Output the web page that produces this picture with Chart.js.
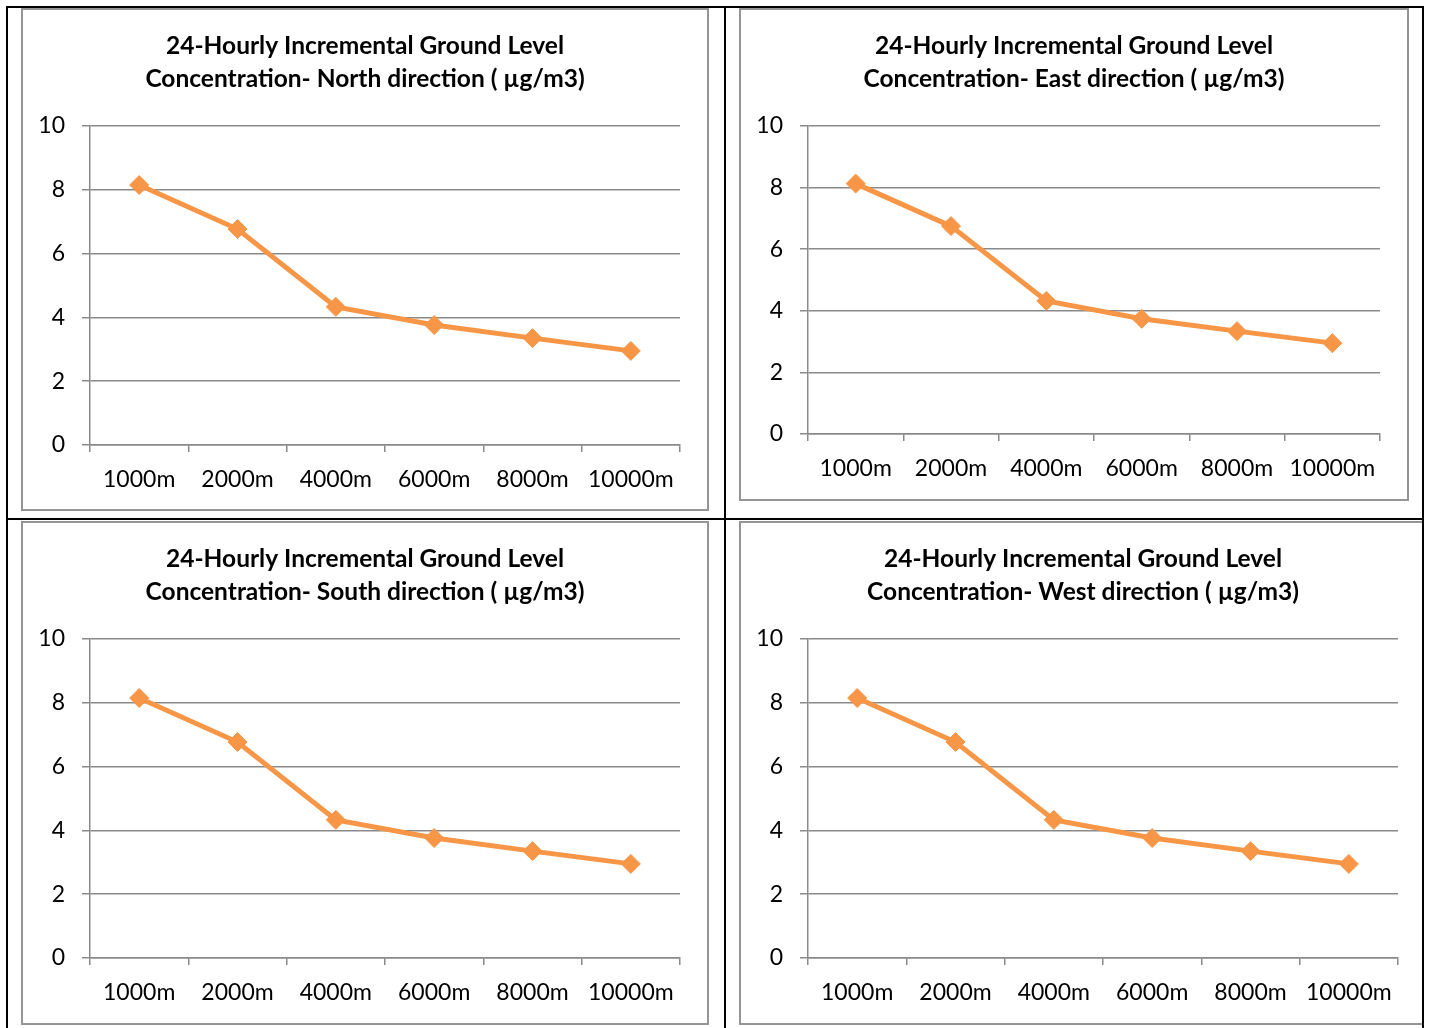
<!DOCTYPE html>
<html>
<head>
<meta charset="utf-8">
<title>24-Hourly Incremental Ground Level Concentration</title>
<script src="https://cdn.jsdelivr.net/npm/chart.js@4.4.1/dist/chart.umd.min.js"></script>
<style>
  html, body { margin: 0; padding: 0; background: #fff; }
  body { position: relative; width: 1430px; height: 1028px; overflow: hidden; }
  .rule { position: absolute; background: #000; }
  .clip { position: absolute; overflow: hidden; }
  .panel { position: absolute; }
  .panel canvas { position: absolute; left: 0; top: 0; }
  .frame { position: absolute; left: 0; top: 0; right: 0; bottom: 0; box-sizing: border-box;
           border: 2px solid #959595; pointer-events: none; }
</style>
</head>
<body>

<!-- table rules -->
<div class="rule" style="left:6px; top:6px; width:1418px; height:2px;"></div>
<div class="rule" style="left:6px; top:518px; width:1418px; height:2px;"></div>
<div class="rule" style="left:6px; top:6px; width:2px; height:1030px;"></div>
<div class="rule" style="left:724px; top:6px; width:2px; height:1030px;"></div>
<div class="rule" style="left:1422px; top:6px; width:2px; height:1030px;"></div>

<!-- chart panels -->
<div class="panel" style="left:21px; top:8px; width:688px; height:503px;">
  <canvas id="chartNorth" width="688" height="503"></canvas><div class="frame"></div>
</div>
<div class="panel" style="left:739px; top:8px; width:670px; height:493px;">
  <canvas id="chartEast" width="670" height="493"></canvas><div class="frame"></div>
</div>
<div class="panel" style="left:21px; top:521px; width:688px; height:504px;">
  <canvas id="chartSouth" width="688" height="504"></canvas><div class="frame"></div>
</div>
<div class="clip" style="left:726px; top:520px; width:696px; height:508px;">
  <div class="panel" style="left:13px; top:1px; width:688px; height:504px;">
    <canvas id="chartWest" width="688" height="504"></canvas><div class="frame"></div>
  </div>
</div>

<script>
// Receptor distances along each direction
const distances = ['1000m', '2000m', '4000m', '6000m', '8000m', '10000m'];

// 24-hourly incremental GLC (µg/m3) per direction
const northValues = [8.15, 6.77, 4.33, 3.76, 3.35, 2.95];
const eastValues  = [8.13, 6.75, 4.32, 3.74, 3.34, 2.95];
const southValues = [8.15, 6.77, 4.33, 3.76, 3.35, 2.95];
const westValues  = [8.15, 6.77, 4.33, 3.76, 3.35, 2.95];

// Value axis ticks
const yTicks = [0, 2, 4, 6, 8, 10];

const titleFirstLine = '24-Hourly Incremental Ground Level';
const directionNames = ['North', 'East', 'South', 'West'];

const LINE_COLOR = '#F79646';
const GRID_COLOR = '#8a8a8a';
const FONT_FAMILY = 'Lato, Calibri, "Open Sans", sans-serif';

function buildChart(canvasId, direction, values, plotBottom) {
  const canvas = document.getElementById(canvasId);
  const xAxisHeight = canvas.height - plotBottom;
  return new Chart(canvas, {
    type: 'line',
    data: {
      labels: distances,
      datasets: [{
        data: values,
        yAxisID: 'y',
        borderColor: LINE_COLOR,
        backgroundColor: LINE_COLOR,
        borderWidth: 5,
        tension: 0,
        pointStyle: 'rectRot',
        pointRadius: 9.5,
        pointHoverRadius: 9.5,
        pointBackgroundColor: LINE_COLOR,
        pointBorderColor: LINE_COLOR,
        pointBorderWidth: 1,
        fill: false
      }]
    },
    options: {
      responsive: false,
      maintainAspectRatio: false,
      animation: false,
      devicePixelRatio: 1,
      layout: { padding: 0 },
      plugins: {
        legend: { display: false },
        tooltip: { enabled: false },
        title: {
          display: true,
          text: [titleFirstLine, 'Concentration- ' + direction + ' direction ( µg/m3)'],
          color: '#000',
          font: { family: FONT_FAMILY, size: 24.5, weight: 'bold', lineHeight: '33px' },
          padding: { top: 22, bottom: 30 }
        }
      },
      scales: {
        x: {
          type: 'category',
          offset: true,
          grid: {
            display: true,
            offset: true,
            drawOnChartArea: false,
            drawTicks: true,
            tickLength: 7,
            color: GRID_COLOR,
            lineWidth: 1.5
          },
          border: { display: true, color: GRID_COLOR, width: 1.5 },
          ticks: {
            color: '#000',
            font: { family: FONT_FAMILY, size: 23 },
            padding: 14,
            maxRotation: 0,
            autoSkip: false
          },
          afterFit(scale) { scale.height = xAxisHeight; }
        },
        y: {
          position: 'left',
          min: yTicks[0],
          max: yTicks[yTicks.length - 1],
          grid: {
            color: GRID_COLOR,
            lineWidth: 1.5,
            drawTicks: true,
            tickLength: 8
          },
          border: { display: true, color: GRID_COLOR, width: 1.5 },
          ticks: {
            color: '#000',
            font: { family: FONT_FAMILY, size: 23 },
            padding: 17,
            stepSize: yTicks[1] - yTicks[0]
          },
          afterBuildTicks(scale) { scale.ticks = yTicks.map(v => ({ value: v })); },
          afterFit(scale) { scale.width = 69; }
        },
        // empty right-hand margin so the plot keeps its right inset
        margin: {
          type: 'linear',
          position: 'right',
          display: true,
          grid: { display: false, drawTicks: false },
          border: { display: false },
          ticks: { display: false },
          afterFit(scale) { scale.width = 29; }
        }
      }
    }
  });
}

buildChart('chartNorth', directionNames[0], northValues, 437);
buildChart('chartEast',  directionNames[1], eastValues, 426);
buildChart('chartSouth', directionNames[2], southValues, 437);
buildChart('chartWest',  directionNames[3], westValues, 437);
</script>
</body>
</html>
